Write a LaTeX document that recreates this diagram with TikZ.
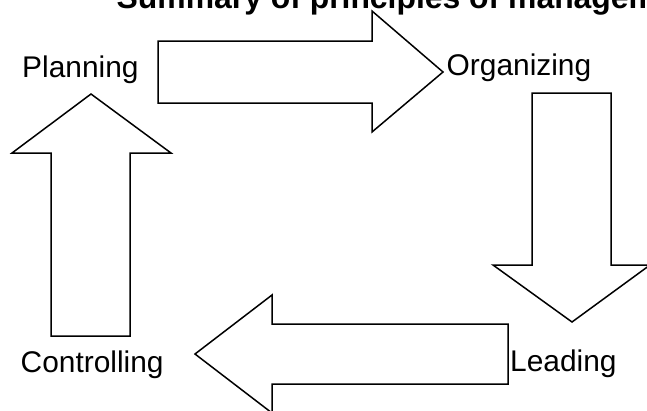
\documentclass[tikz,border=0pt]{standalone}
\usepackage{fontspec}
\setmainfont{Liberation Sans}
\begin{document}
\begin{tikzpicture}[x=1bp,y=-1bp,
  arrowshape/.style={draw=black,line width=1.5bp,fill=white,line join=miter},
  lbl/.style={inner sep=0pt,anchor=base west,font=\fontsize{30}{36}\selectfont},
  ttl/.style={inner sep=0pt,anchor=base west,font=\fontsize{32}{38}\selectfont\bfseries}]
\useasboundingbox (0,0) rectangle (647,410);
\clip (0,0) rectangle (647,410);
\fill[white] (0,0) rectangle (647,410);
% title
\node[ttl] (title) at (116.5,8) {Summary of principles of management};
% arrows
\draw[arrowshape] (158,41) -- (372,41) -- (372,11) -- (443,72) -- (372,132) -- (372,103) -- (158,103) -- cycle;
\draw[arrowshape] (532,93) -- (611,93) -- (611,265) -- (650,265) -- (572,322) -- (493,265) -- (532,265) -- cycle;
\draw[arrowshape] (508,324) -- (272,324) -- (272,295) -- (195,354) -- (272,413) -- (272,384) -- (508,384) -- cycle;
\draw[arrowshape] (51,336) -- (51,153) -- (12,153) -- (91,94) -- (171,153) -- (130,153) -- (130,336) -- cycle;
% labels
\node[lbl] (planning) at (22,77) {Planning};
\node[lbl] (organizing) at (446.5,75) {Organizing};
\node[lbl] (controlling) at (20.5,372) {Controlling};
\node[lbl] (leading) at (510,371) {Leading};
\end{tikzpicture}
\end{document}
